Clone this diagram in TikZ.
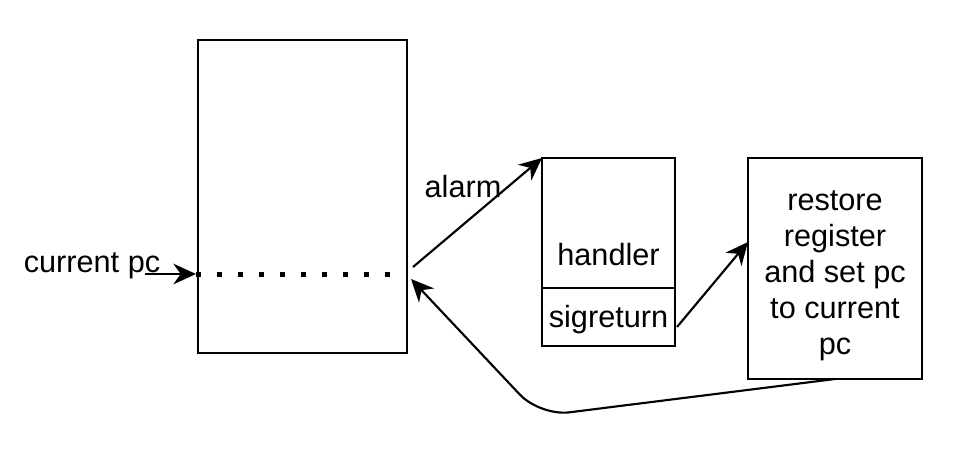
\documentclass[tikz,border=0pt]{standalone}
\usepackage{fontspec}
\setmainfont{Liberation Sans}
\usetikzlibrary{arrows.meta}
\tikzset{
  box/.style={draw, line width=1.5pt, inner sep=0pt, outer sep=0pt},
  lbl/.style={inner sep=0pt, font=\fontsize{23}{27}\selectfont},
  conn/.style={line width=1.6pt, -{Stealth[length=17pt, width=15.5pt, inset=5.5pt]}},
}
\begin{document}
\begin{tikzpicture}[x=0.75pt, y=-0.75pt]
\useasboundingbox (0,0) rectangle (963,457);
\node[box, minimum width=156.75pt, minimum height=234.75pt] (main) at (302.5,196.5) {};
\node[box, minimum width=99.75pt, minimum height=97.5pt] (hbox) at (608.5,223) {};
\node[box, minimum width=99.75pt, minimum height=43.5pt] (sbox) at (608.5,317) {};
\node[box, minimum width=130.5pt, minimum height=165.75pt] (rbox) at (835,268.5) {};
\node[lbl] (htxt) at (608.5,255) {handler};
\node[lbl] (stxt) at (608.5,320) {sigreturn};
\node[lbl, align=center] (rtxt) at (835,276) {restore\\register\\and set pc\\to current\\pc};
\node[lbl] (cpc) at (92,266) {current pc};
\node[lbl] (alarm) at (463,187) {alarm};
\coordinate (c0) at (145,274);
\coordinate (dotL) at (196,274);
\coordinate (dotR) at (393,274);
\coordinate (a0) at (413,267);
\coordinate (s0) at (677,327);
\coordinate (s1) at (748,242);
\coordinate (r0) at (835,379);
\coordinate (rb) at (540,416);
\coordinate (r1) at (411,279);
\draw[line width=3.75pt, dash pattern=on 3.75pt off 12pt] (dotL) -- (dotR);
\draw[conn] (c0) -- (dotL);
\draw[conn] (a0) -- (hbox.north west);
\draw[conn] (s0) -- (s1);
\draw[conn, rounded corners=22pt] (r0) -- (rb) -- (r1);
\end{tikzpicture}
\end{document}
